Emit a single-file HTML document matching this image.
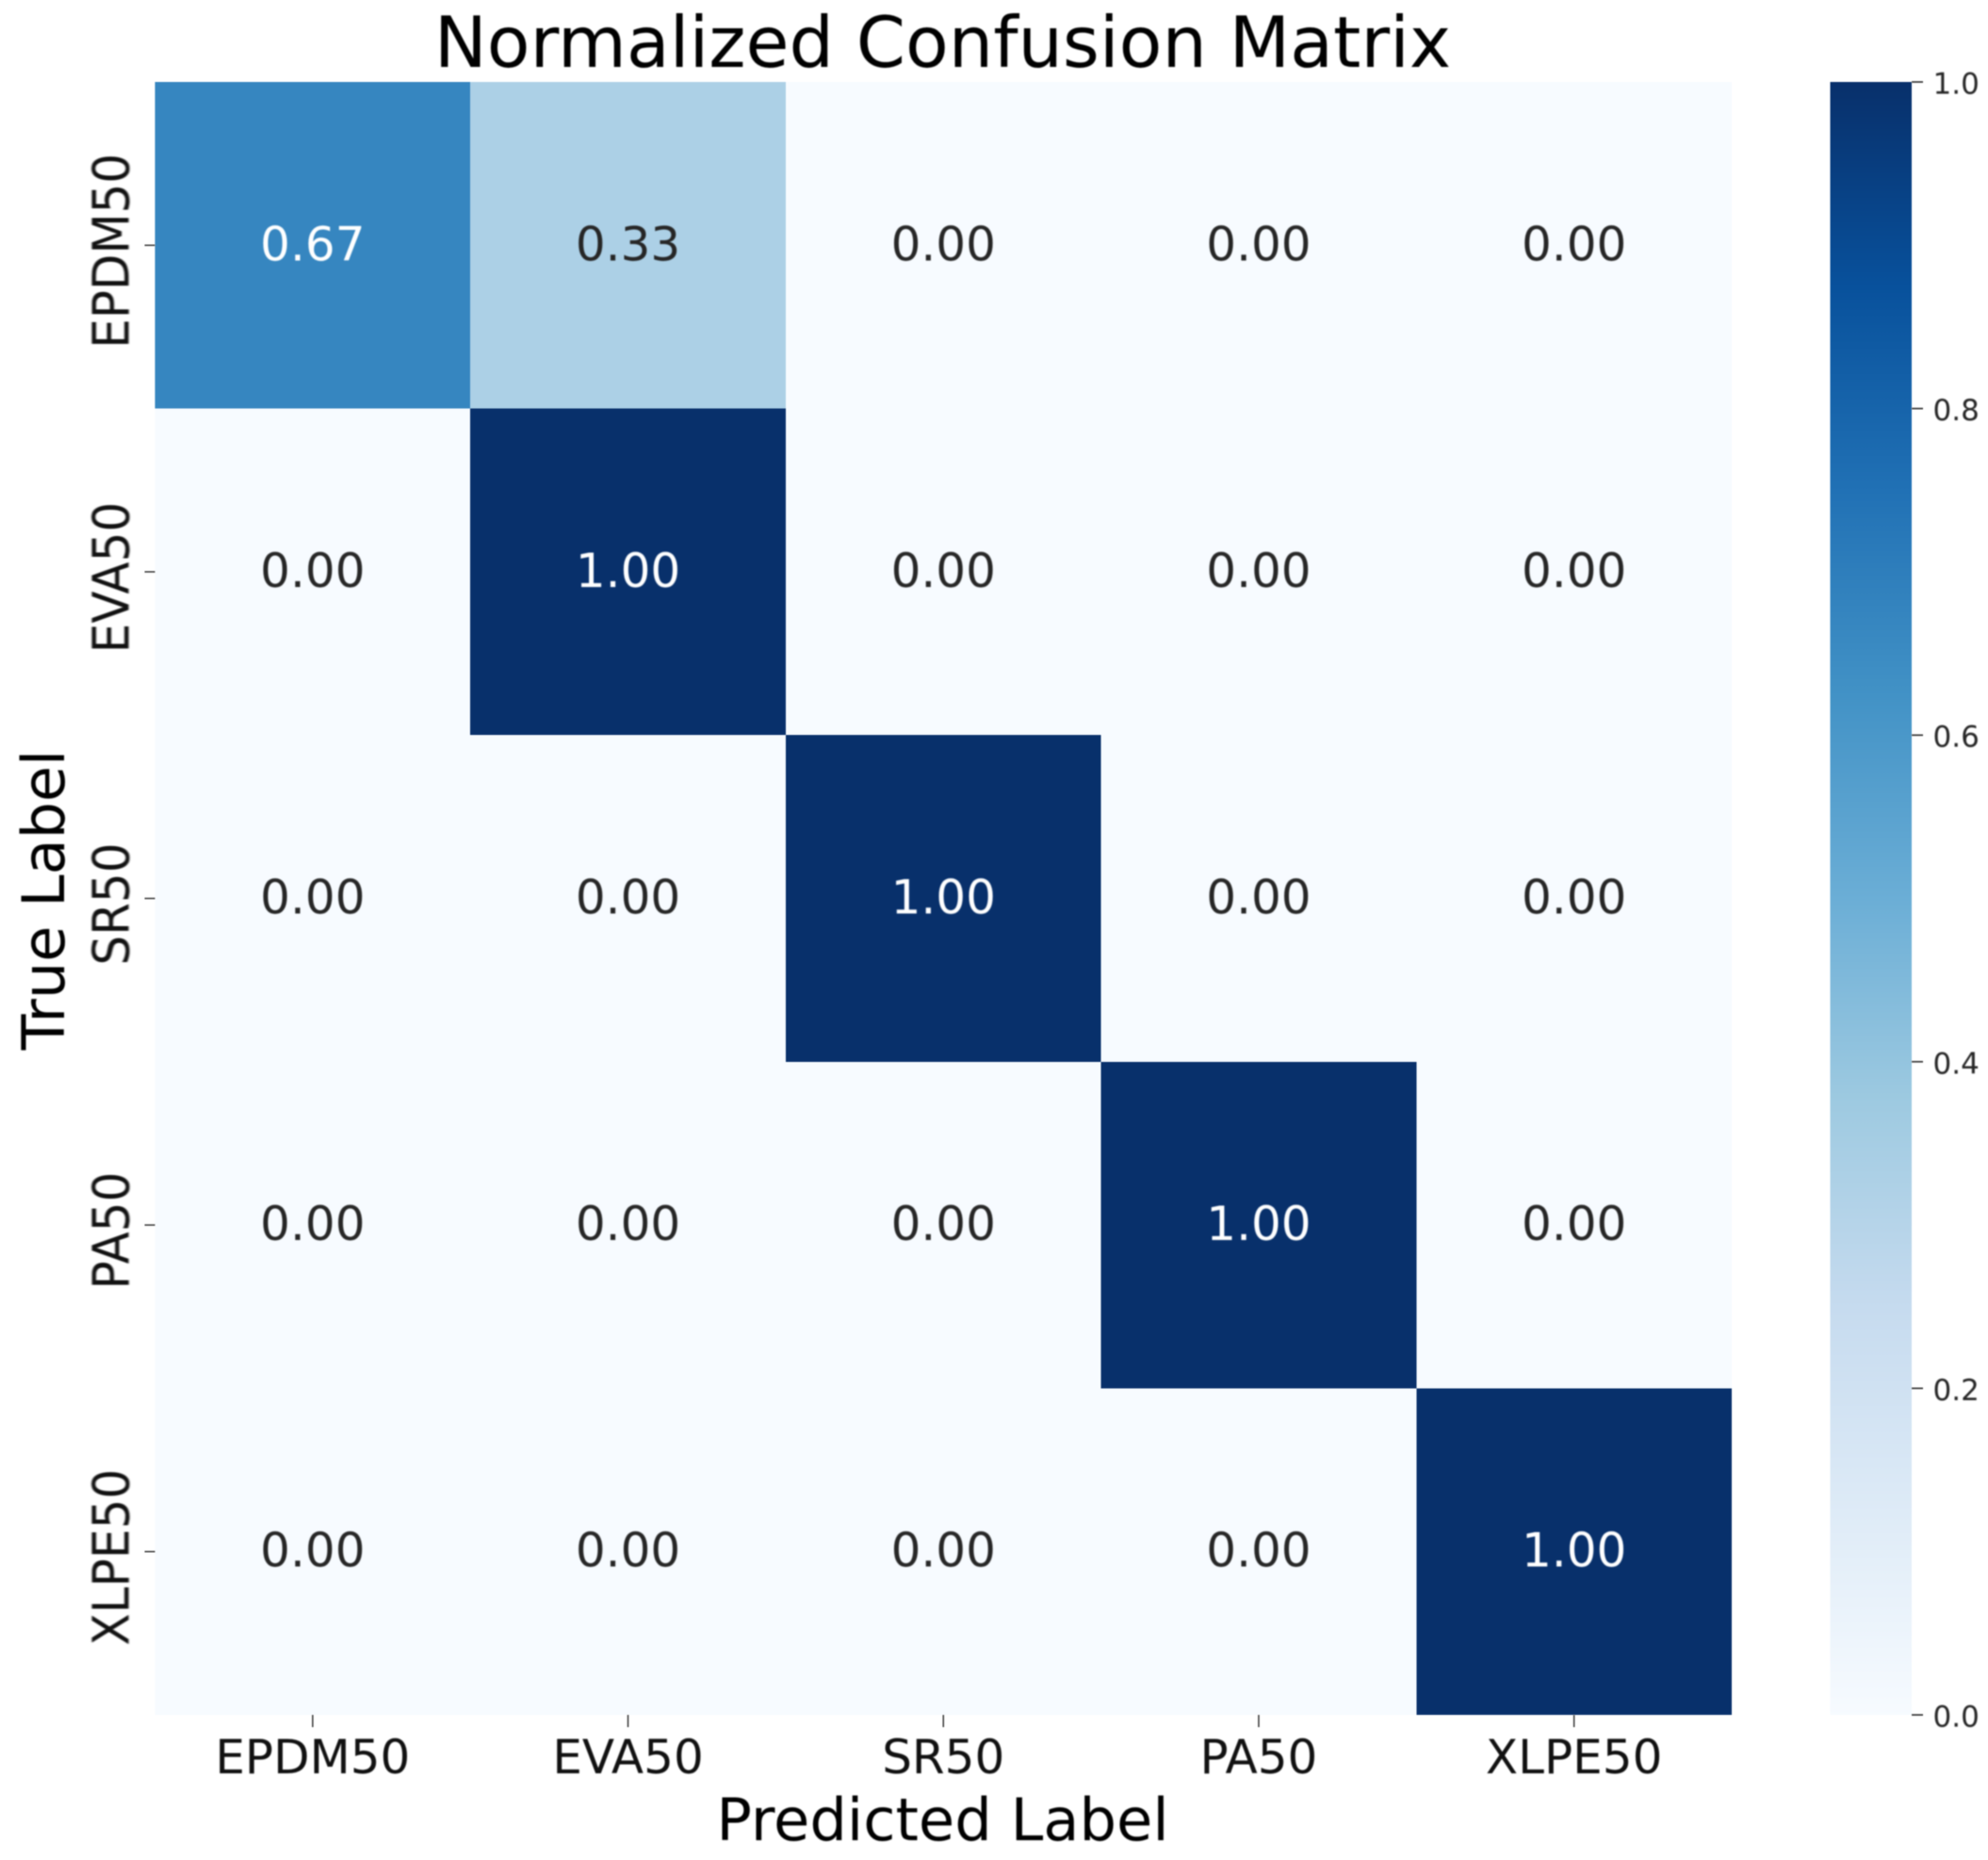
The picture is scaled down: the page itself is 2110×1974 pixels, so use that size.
<!DOCTYPE html>
<html lang="en">
<head>
<meta charset="utf-8">
<title>Normalized Confusion Matrix</title>
<style>
  html, body { margin: 0; padding: 0; background: #ffffff; }
  body { width: 2110px; height: 1974px; overflow: hidden; }
  #chart { display: block; }
  text { font-family: "DejaVu Sans", "Liberation Sans", sans-serif; filter: blur(0.9px); }
  #heatmap, #colorbar rect, line { filter: blur(0.6px); }
</style>
</head>
<body>
<svg id="chart" xmlns="http://www.w3.org/2000/svg" width="2110" height="1974" viewBox="0 0 2110 1974">
  <defs>
    <linearGradient id="colorbar-gradient" x1="0" y1="1" x2="0" y2="0"></linearGradient>
  </defs>
  <rect x="0" y="0" width="2110" height="1974" fill="#ffffff"></rect>
  <g id="heatmap"></g>
  <g id="annotations"></g>
  <g id="x-axis"></g>
  <g id="y-axis"></g>
  <g id="colorbar"></g>
  <text x="1000.5" y="71" text-anchor="middle" font-size="74.8" fill="#000000">Normalized Confusion Matrix</text>
  <text x="1000.5" y="1953" text-anchor="middle" font-size="62.3" fill="#000000">Predicted Label</text>
  <text transform="translate(68 955) rotate(-90)" text-anchor="middle" font-size="62" fill="#000000">True Label</text>
</svg>
<script>
const categories = ["EPDM50", "EVA50", "SR50", "PA50", "XLPE50"];
const rowEPDM50 = [0.67, 0.33, 0.00, 0.00, 0.00];
const rowEVA50 = [0.00, 1.00, 0.00, 0.00, 0.00];
const rowSR50 = [0.00, 0.00, 1.00, 0.00, 0.00];
const rowPA50 = [0.00, 0.00, 0.00, 1.00, 0.00];
const rowXLPE50 = [0.00, 0.00, 0.00, 0.00, 1.00];
const matrixRows = [rowEPDM50, rowEVA50, rowSR50, rowPA50, rowXLPE50];
const colorbarTicks = [0.0, 0.2, 0.4, 0.6, 0.8, 1.0];
const colorMin = 0;
const colorMax = 1;

const SVG_NS = "http://www.w3.org/2000/svg";
const plotLeft = 164.5, plotRight = 1838, plotTop = 87, plotBottom = 1820;
const barLeft = 1942.5, barRight = 2029, barTop = 87, barBottom = 1820;
const bluesStops = ["#f7fbff", "#deebf7", "#c6dbef", "#9ecae1", "#6baed6", "#4292c6", "#2171b5", "#08519c", "#08306b"];

function xBand(col) { return plotLeft + col * (plotRight - plotLeft) / categories.length; }
function yBand(row) { return plotTop + row * (plotBottom - plotTop) / categories.length; }
function barY(value) { return barBottom - (value - colorMin) / (colorMax - colorMin) * (barBottom - barTop); }

function hexToRgb(hex) {
  return [1, 3, 5].map(function (i) { return parseInt(hex.substr(i, 2), 16); });
}
function colorFor(value) {
  const t = Math.max(0, Math.min(1, (value - colorMin) / (colorMax - colorMin))) * (bluesStops.length - 1);
  const i = Math.min(bluesStops.length - 2, Math.floor(t));
  const a = hexToRgb(bluesStops[i]);
  const b = hexToRgb(bluesStops[i + 1]);
  const f = t - i;
  return "rgb(" + a.map(function (c, k) { return Math.round(c + (b[k] - c) * f); }).join(",") + ")";
}
function make(tag, attrs, parent, text) {
  const el = document.createElementNS(SVG_NS, tag);
  Object.keys(attrs).forEach(function (k) { el.setAttribute(k, attrs[k]); });
  if (text !== undefined) el.textContent = text;
  parent.appendChild(el);
  return el;
}

const heatmap = document.getElementById("heatmap");
const annotations = document.getElementById("annotations");
const xAxis = document.getElementById("x-axis");
const yAxis = document.getElementById("y-axis");
const colorbar = document.getElementById("colorbar");
const gradient = document.getElementById("colorbar-gradient");

matrixRows.forEach(function (rowValues, r) {
  rowValues.forEach(function (value, c) {
    const cell = make("rect", {
      x: xBand(c), y: yBand(r),
      width: xBand(c + 1) - xBand(c), height: yBand(r + 1) - yBand(r),
      fill: colorFor(value), "shape-rendering": "crispEdges"
    }, heatmap);
    
    

    const label = make("text", {
      x: (xBand(c) + xBand(c + 1)) / 2,
      y: (yBand(r) + yBand(r + 1)) / 2 + 16,
      "text-anchor": "middle", "font-size": 50,
      fill: value > 0.5 ? "#ffffff" : "#262626"
    }, annotations, value.toFixed(2));
    
    
  });
});

categories.forEach(function (name, i) {
  const cx = (xBand(i) + xBand(i + 1)) / 2;
  const xTick = make("line", { x1: cx, x2: cx, y1: plotBottom, y2: plotBottom + 13, stroke: "#444444", "stroke-width": 1.6 }, xAxis);
  
  
  const xLabel = make("text", { x: cx, y: 1882, "text-anchor": "middle", "font-size": 50, fill: "#111111" }, xAxis, name);
  
  

  const cy = (yBand(i) + yBand(i + 1)) / 2;
  const yTick = make("line", { x1: plotLeft - 11, x2: plotLeft, y1: cy, y2: cy, stroke: "#444444", "stroke-width": 1.6 }, yAxis);
  
  
  const yLabel = make("text", { transform: "translate(136.5 " + (cy + 6) + ") rotate(-90) scale(1 1.07)", "text-anchor": "middle", "font-size": 50, fill: "#111111" }, yAxis, name);
  
  
});

bluesStops.forEach(function (color, i) {
  make("stop", { offset: i / (bluesStops.length - 1), "stop-color": color }, gradient);
});
const barRect = make("rect", { x: barLeft, y: barTop, width: barRight - barLeft, height: barBottom - barTop, fill: "url(#colorbar-gradient)" }, colorbar);



colorbarTicks.forEach(function (value) {
  const y = barY(value);
  const tick = make("line", { x1: barRight, x2: barRight + 12, y1: y, y2: y, stroke: "#444444", "stroke-width": 1.8 }, colorbar);
  
  
  const label = make("text", { x: 2051.5, y: y + 12.5, "font-size": 31, fill: "#262626" }, colorbar, value.toFixed(1));
  
  
});
</script>
</body>
</html>
